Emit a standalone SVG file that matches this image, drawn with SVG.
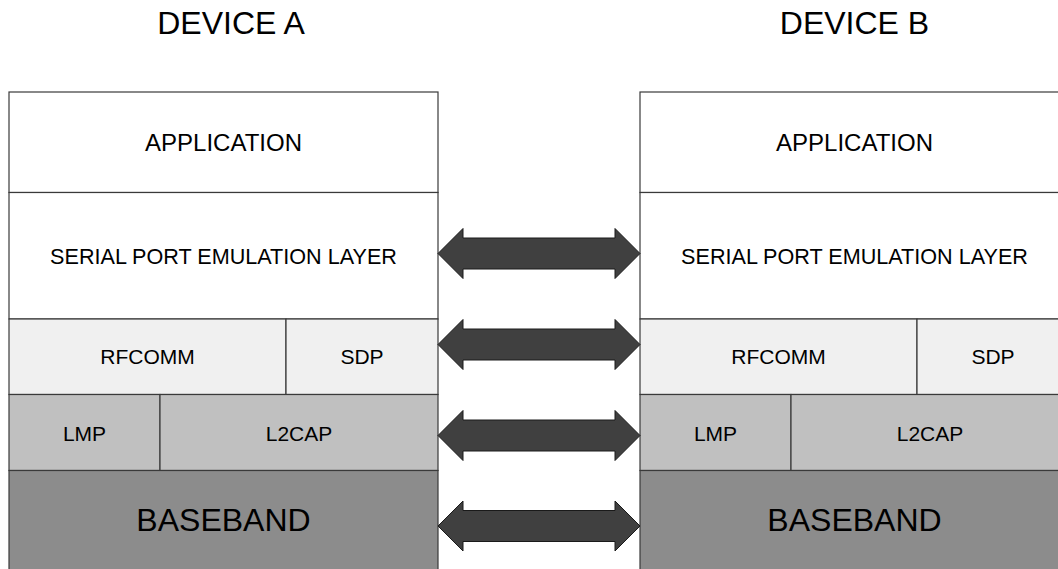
<svg xmlns="http://www.w3.org/2000/svg" width="1058" height="569" viewBox="0 0 1058 569">
<style>
text{font-family:"Liberation Sans",Arial,sans-serif;fill:#000;text-anchor:middle}
.b{stroke:#3a3a3a;stroke-width:1.2}
.w{fill:#ffffff}.l{fill:#f0f0f0}.m{fill:#c0c0c0}.d{fill:#8c8c8c}
.t{font-size:32px}.a{font-size:24px}.s{font-size:21px}.sp{font-size:21.6px}.bb{font-size:32px}
.arr{fill:#404040;stroke:#1a1a1a;stroke-width:1}
</style>
<defs>
<path id="dbl" d="M0,0 L25,-25 L25,-15.5 L177,-15.5 L177,-25 L202,0 L177,25 L177,15.5 L25,15.5 L25,25 Z"/>
</defs>
<g id="title-a"><text class="t" x="231" y="34">DEVICE A</text></g>
<g id="title-b"><text class="t" x="854.5" y="34">DEVICE B</text></g>
<g id="device-a">
<g id="a-application"><rect class="b w" x="9" y="92" width="429" height="100.5"/><text class="a" x="223.5" y="151">APPLICATION</text></g>
<g id="a-serial"><rect class="b w" x="9" y="192.5" width="429" height="126.5"/><text class="sp" x="223.5" y="263.5">SERIAL PORT EMULATION LAYER</text></g>
<g id="a-rfcomm"><rect class="b l" x="9" y="319" width="277" height="75.5"/><text class="s" x="147.5" y="364">RFCOMM</text></g>
<g id="a-sdp"><rect class="b l" x="286" y="319" width="152" height="75.5"/><text class="s" x="362" y="364">SDP</text></g>
<g id="a-lmp"><rect class="b m" x="9" y="394.5" width="151" height="76"/><text class="s" x="84.5" y="441">LMP</text></g>
<g id="a-l2cap"><rect class="b m" x="160" y="394.5" width="278" height="76"/><text class="s" x="299" y="441">L2CAP</text></g>
<g id="a-baseband"><rect class="b d" x="9" y="470.5" width="429" height="110"/><text class="bb" x="223.5" y="531">BASEBAND</text></g>
</g>
<g id="device-b">
<g id="b-application"><rect class="b w" x="640" y="92" width="429" height="100.5"/><text class="a" x="854.5" y="151">APPLICATION</text></g>
<g id="b-serial"><rect class="b w" x="640" y="192.5" width="429" height="126.5"/><text class="sp" x="854.5" y="263.5">SERIAL PORT EMULATION LAYER</text></g>
<g id="b-rfcomm"><rect class="b l" x="640" y="319" width="277" height="75.5"/><text class="s" x="778.5" y="364">RFCOMM</text></g>
<g id="b-sdp"><rect class="b l" x="917" y="319" width="152" height="75.5"/><text class="s" x="993" y="364">SDP</text></g>
<g id="b-lmp"><rect class="b m" x="640" y="394.5" width="151" height="76"/><text class="s" x="715.5" y="441">LMP</text></g>
<g id="b-l2cap"><rect class="b m" x="791" y="394.5" width="278" height="76"/><text class="s" x="930" y="441">L2CAP</text></g>
<g id="b-baseband"><rect class="b d" x="640" y="470.5" width="429" height="110"/><text class="bb" x="854.5" y="531">BASEBAND</text></g>
</g>
<g id="connectors">
<use class="arr" href="#dbl" x="438" y="253.5"/>
<use class="arr" href="#dbl" x="438" y="344.5"/>
<use class="arr" href="#dbl" x="438" y="435.5"/>
<use class="arr" href="#dbl" x="438" y="526"/>
</g>
</svg>
